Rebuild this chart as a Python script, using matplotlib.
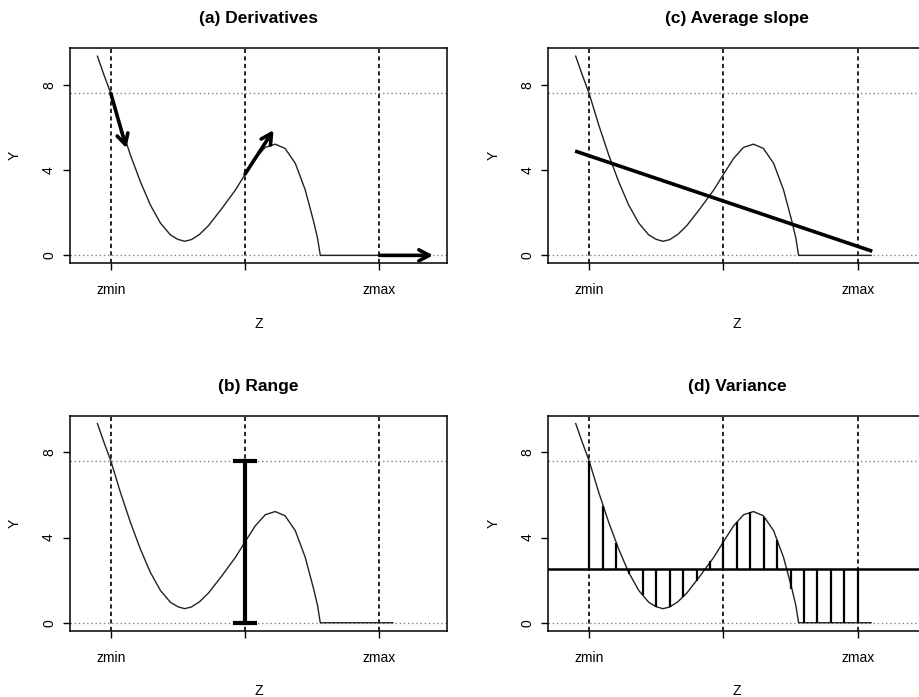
import matplotlib
matplotlib.use("Agg")
import matplotlib.pyplot as plt
import numpy as np

plt.rcParams['font.family'] = ['Liberation Sans', 'DejaVu Sans']

# response curve Y(Z), zmin = 0 and zmax = 1
curve_z = [-0.05, -0.025, 0.0, 0.036, 0.073, 0.110, 0.147, 0.185, 0.222,
           0.250, 0.275, 0.300, 0.330, 0.364, 0.414, 0.464, 0.501, 0.538,
           0.575, 0.612, 0.649, 0.687, 0.724, 0.755, 0.770, 0.780, 0.85,
           0.95, 1.05]
curve_y = [9.35, 8.45, 7.60, 6.11, 4.71, 3.46, 2.37, 1.51, 0.96,
           0.75, 0.66, 0.74, 0.98, 1.40, 2.21, 3.07, 3.82, 4.55,
           5.07, 5.22, 5.02, 4.32, 3.07, 1.60, 0.80, 0.0, 0.0,
           0.0, 0.0]

# values on the sample grid used for the variance panel
sample_z = [0.0, 0.05, 0.10, 0.15, 0.20, 0.25, 0.30, 0.35, 0.40, 0.45, 0.50,
            0.55, 0.60, 0.65, 0.70, 0.75, 0.80, 0.85, 0.90, 0.95, 1.0]
sample_y = [7.60, 5.50, 3.75, 2.28, 1.29, 0.75, 0.74, 1.20, 1.98, 2.88, 3.82,
            4.72, 5.20, 4.98, 3.90, 1.60, 0.0, 0.0, 0.0, 0.0, 0.0]
mean_y = 2.54

y_min, y_max = 0.0, 7.6          # range of Y over [zmin, zmax]
z_marks = [0.0, 0.5, 1.0]
z_labels = ['zmin', '', 'zmax']
y_ticks = [0, 4, 8]

# derivative arrows: (start z, start y, end z, end y)
arrows = [(0.0, 7.60, 0.058, 5.03),
          (0.5, 3.82, 0.606, 5.88),
          (1.0, 0.0, 1.2, 0.0)]

# fitted line for the average slope
slope_z = [-0.046, 1.048]
slope_y = [4.87, 0.22]

titles = ['(a) Derivatives', '(b) Range', '(c) Average slope', '(d) Variance']


def base_axes(fig, rect, title):
    ax = fig.add_axes(rect)
    ax.set_xlim(-0.152, 1.252)
    ax.set_ylim(-0.374, 9.72)
    for z in z_marks:
        ax.axvline(z, color='black', lw=1.2, ls=(0, (2.5, 2)), zorder=1)
    for y in (y_min, y_max):
        ax.axhline(y, color='#808080', lw=1.0, ls=(0, (1, 2)), zorder=1)
    ax.plot(curve_z, curve_y, color='#222222', lw=1.0, zorder=3)
    ax.set_xticks(z_marks)
    ax.set_xticklabels(z_labels)
    ax.set_yticks(y_ticks)
    ax.set_yticklabels([str(t) for t in y_ticks], rotation=90, va='center')
    ax.tick_params(axis='both', direction='out', length=5, width=1.0,
                   labelsize=10, colors='black')
    ax.tick_params(axis='x', pad=9.5)
    ax.tick_params(axis='y', pad=5)
    for s in ax.spines.values():
        s.set_linewidth(1.1)
    ax.set_xlabel('Z', fontsize=10)
    ax.set_ylabel('Y', fontsize=10)
    ax.xaxis.set_label_coords(0.5, -0.25)
    ax.yaxis.set_label_coords(-0.127, 0.5)
    ax.set_title(title, fontsize=12.5, fontweight='bold', pad=18)
    return ax


fig = plt.figure(figsize=(9.2, 6.97), dpi=100)

w, h = 0.4098, 0.3085
ax_a = base_axes(fig, [0.0761, 0.6222, w, h], titles[0])
ax_b = base_axes(fig, [0.0761, 0.0951, w, h], titles[1])
ax_c = base_axes(fig, [0.5960, 0.6222, w, h], titles[2])
ax_d = base_axes(fig, [0.5960, 0.0951, w, h], titles[3])

# (a) tangent arrows
for z0, y0, z1, y1 in arrows:
    ax_a.annotate('', xy=(z1, y1), xytext=(z0, y0),
                  arrowprops=dict(arrowstyle='->,head_length=0.75,head_width=0.4',
                                  lw=2.6, color='black', shrinkA=0, shrinkB=0),
                  zorder=5)

# (b) range bar at the middle of the interval
cap = 0.038
ax_b.plot([0.5, 0.5], [y_min, y_max], color='black', lw=3, zorder=5)
for y in (y_min, y_max):
    ax_b.plot([0.5 - cap, 0.5 + cap], [y, y], color='black', lw=3, zorder=5)

# (c) average slope line
ax_c.plot(slope_z, slope_y, color='black', lw=2.6, zorder=5)

# (d) deviations from the mean
ax_d.axhline(mean_y, color='black', lw=1.8, zorder=4)
ax_d.vlines(sample_z, mean_y, sample_y, color='black', lw=1.6, zorder=4)

fig.savefig('out.png', dpi=100)
